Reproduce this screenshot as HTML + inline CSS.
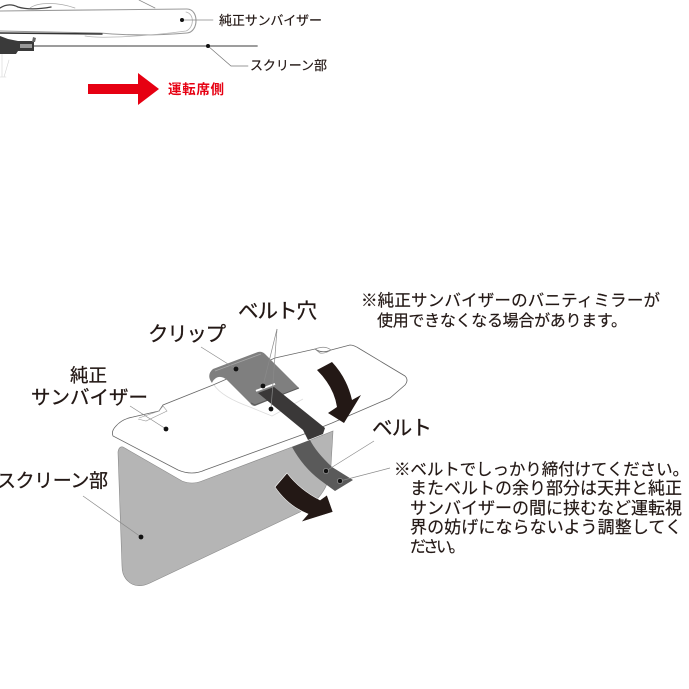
<!DOCTYPE html>
<html lang="ja"><head><meta charset="utf-8">
<style>
html,body{margin:0;padding:0;background:#fff}
svg{display:block}
text{font-family:"Liberation Sans","Noto Sans CJK JP",sans-serif;fill:#231815;stroke:#231815;stroke-width:.28;paint-order:stroke}
text.s{stroke-width:.18}
</style></head><body>
<svg width="689" height="689" viewBox="0 0 689 689" xmlns="http://www.w3.org/2000/svg">
<!-- top cross-section -->
<g fill="none" stroke-linecap="round">
<path d="M0 11 C60 10 130 10 187 9 C199 9 199 32 187 33 C150 36 120 35 100 33 L0 31" stroke="#999" stroke-width="1.1"/>
<path d="M85 36 C100 39 150 36 186 31 C194 28 195 14 186 12" stroke="#b5b5b5" stroke-width=".8"/>
<path d="M0 33 L102 34" stroke="#333" stroke-width="1.5"/>
<path d="M0 8 C6 4 12 4 18 7 C28 10 40 9 51 7" stroke="#444" stroke-width="1.3"/>
<path d="M30 8 C38 2 58 2 75 8" stroke="#aaa" stroke-width=".7"/>
<path d="M139 0 L155 8" stroke="#888" stroke-width=".7"/>
<path d="M20 46 L257 46" stroke="#8f8f8f" stroke-width="1.8"/>
<path d="M182 20 H213" stroke="#888" stroke-width=".7"/>
<path d="M208 46 L231 66 H248" stroke="#777" stroke-width=".7"/>
<path d="M2 54 V77 M9 60 L4 77 M0 77 H6" stroke="#d5d5d5" stroke-width=".6"/>
</g>
<path d="M0 36 L8 39 L18 41 H34 V51 H18 L16 54 H0Z" fill="#3a3a3a"/>
<path d="M20 44 H32 V48 H20Z" fill="#999"/>
<path d="M33 37 L36 38 L35 42 H32Z" fill="#666"/>
<circle cx="182" cy="20" r="2" fill="#111"/><circle cx="208" cy="46" r="2" fill="#111"/>
<text class="s" x="219" y="25" font-size="13" textLength="103">純正サンバイザー</text>
<text class="s" x="250" y="70" font-size="13" textLength="77">スクリーン部</text>
<path d="M88 84 H138 V73 L159 89 L138 105 V94 H88Z" fill="#e60012"/>
<text x="168" y="94" font-size="13.5" font-weight="700" style="fill:#e60012;stroke:none" textLength="56">運転席側</text>

<!-- screen -->
<path d="M118 452 Q119 446 123 447 L182 481 Q192 485 202 481 L308 441 L333 431 L331 465 Q330 485 318 498 L300 512 L150 583 Q135 590 126 579 Q122 574 122 566Z" fill="#b5b5b5" stroke="#8a8a8a" stroke-width=".6"/>
<!-- visor -->
<path d="M113 436 Q111 431 116 426 Q122 419 133 417 L159 411 L163 405 L213 385 L275 358 L315 349 Q322 354 331 350 L350 345 Q354 345 360 349 L405 376 Q409 380 405 385 L390 398 L332 423 L307 433 L205 470 Q192 476 178 470Z" fill="#fff" stroke="#666" stroke-width=".8"/>
<path d="M138 419 L146 421 L167 411 L163 406 L159 411 L139 418" fill="none" stroke="#999" stroke-width=".6"/>
<path d="M315 349 Q325 345 331 350 Q325 354 320 353Z" fill="none" stroke="#888" stroke-width=".7"/>
<path d="M214 385 Q222 397 250 407 L272 416 L303 399" fill="none" stroke="#ddd" stroke-width=".8"/>
<!-- clip -->
<path d="M212 383 Q206 375 213 369 L258 352 Q262 351 265 354 L299 388 L255 406 Q252 406 250 403 L227 380 Q221 375 216 378 Q213 380 212 383Z" fill="#7f7f7f"/>
<path d="M215 371 L261 354" stroke="#a8a8a8" stroke-width=".8" fill="none"/>
<path d="M251 403 L255 405 L299 388" stroke="#5a5a5a" stroke-width="1" fill="none"/>
<!-- belt -->
<path d="M258 393 L274 387 L325 428 L323 434 L308 440 L303 430 Z" fill="#3a3838"/>
<path d="M292 447 L310 440 Q316 452 332 467 L353 480 L335 491 L320 480 Q303 467 292 447Z" fill="#5a5a5a"/>
<path d="M256 391 L275 384" stroke="#fff" stroke-width="2.2"/>
<path d="M256 392 L275 385" stroke="#777" stroke-width=".4"/>
<!-- black arrows -->
<path d="M317 370 L332 362 Q347 378 352 400 L361 395 L344 423 L328 413 L337 407 Q334 387 317 370Z" fill="#231815"/>
<path d="M275 487 L287 473 Q300 490 320 500 L327 495 L333 512 L301 522 L308 514 Q288 506 275 487Z" fill="#231815" stroke="#fff" stroke-width=".6"/>
<!-- leaders -->
<g stroke="#8a8a8a" stroke-width=".7" fill="none">
<path d="M201 347 L236 369"/>
<path d="M277 329 L263 386"/>
<path d="M277 329 L271 409"/>
<path d="M130 406 L166 429"/>
<path d="M83 496 L141 537"/>
<path d="M374 441 L326 471"/>
<path d="M390 468 L340 481"/>
</g>
<g fill="#111">
<circle cx="236" cy="369" r="2.4"/><circle cx="263" cy="386" r="2.4"/><circle cx="271" cy="409" r="2.4"/>
<circle cx="166" cy="429" r="2.4"/><circle cx="141" cy="537" r="2.4"/>
<circle cx="326" cy="471" r="2.6" stroke="#aaa" stroke-width=".6"/><circle cx="340" cy="481" r="2.6" stroke="#aaa" stroke-width=".6"/>
</g>
<!-- labels -->
<text x="148" y="341" font-size="20.5" textLength="78">クリップ</text>
<text x="238" y="318" font-size="20.5" textLength="79">ベルト穴</text>
<text x="70" y="382" font-size="18.5" textLength="37">純正</text>
<text x="31" y="404" font-size="19.5" textLength="117">サンバイザー</text>
<text x="-3" y="487" font-size="19" textLength="111">スクリーン部</text>
<text x="372" y="435" font-size="20.5" textLength="60">ベルト</text>
<!-- notes -->
<text class="s" x="361" y="306" font-size="16.5" textLength="299">※純正サンバイザーのバニティミラーが</text>
<text class="s" x="377" y="326" font-size="16" textLength="250">使用できなくなる場合があります。</text>
<text class="s" x="394" y="475" font-size="16.5" textLength="295">※ベルトでしっかり締付けてください。</text>
<text class="s" x="410" y="494" font-size="17" textLength="272">またベルトの余り部分は天井と純正</text>
<text class="s" x="410" y="514" font-size="17" textLength="272">サンバイザーの間に挟むなど運転視</text>
<text class="s" x="410" y="533" font-size="17" textLength="272">界の妨げにならないよう調整してく</text>
<text class="s" x="410" y="552" font-size="16" textLength="55">ださい。</text>
</svg>
</body></html>
